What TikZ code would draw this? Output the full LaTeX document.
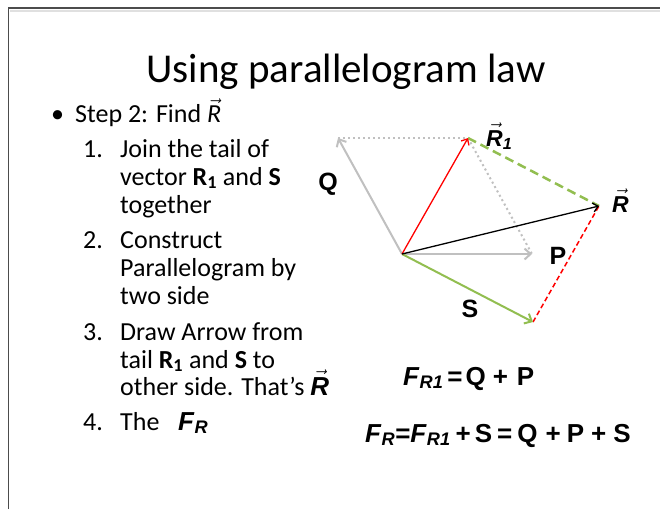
\documentclass[tikz,border=0pt]{standalone}
\usepackage{amsmath}
\usepackage{fontspec}
\setmainfont{Carlito}
\newfontfamily\arialfont{Liberation Sans}
\usetikzlibrary{arrows.meta}

\definecolor{vgray}{RGB}{192,192,192}
\definecolor{vgreen}{RGB}{146,190,80}
\newcommand{\Fsub}[1]{\textit{F}\textsubscript{\textit{#1}}}
\newcommand{\vecR}{$\vec{\text{\itshape R}}$}

\begin{document}
\begin{tikzpicture}[x=1pt,y=-1pt,
  vecarrow/.style={line width=2pt,-{Straight Barb[length=6pt,width=11pt]}},
  thinarrow/.style={line width=1.3pt,-{Straight Barb[length=5pt,width=9pt]}},
  dotline/.style={vgray,line width=2pt,dash pattern=on 2pt off 3pt},
  lbl/.style={font=\arialfont\bfseries\fontsize{25}{28}\selectfont,inner sep=0pt},
  rlbl/.style={anchor=base west,inner sep=0pt,font=\arialfont\bfseries\fontsize{23}{26}\selectfont},
  eqn/.style={anchor=base west,inner sep=0pt,font=\arialfont\bfseries\fontsize{26}{30}\selectfont},
  body/.style={anchor=base west,inner sep=0pt,font=\fontsize{26}{28}\selectfont}]
\useasboundingbox (0,0) rectangle (660,509);
\fill[white] (0,0) rectangle (660,509);
% slide frame
\draw[black!70,line width=1.5pt] (8.5,509) -- (8.5,8) -- (660,8);
\draw[black!12,line width=1.5pt] (10,11) -- (660,11);

\node[anchor=base,inner sep=0pt,font=\fontsize{41}{48}\selectfont] (title) at (346,82) {Using parallelogram law};

% left column
\node[body] (bullet) at (51,122) {\textbullet};
\node[body] (step) at (75,122) {Step 2: Find \vecR};
\foreach \y/\n in {157/1,248/2,340/3,430/4}
  \node[body] (num\n) at (83,\y) {\n.};
\foreach \y/\t [count=\i] in {157/Join the tail of,
    185/{vector \textbf{R\textsubscript{1}} and \textbf{S}},
    213/together,
    248/Construct,
    276/Parallelogram by,
    304/two side,
    340/Draw Arrow from,
    368/{tail \textbf{R\textsubscript{1}} and \textbf{S} to},
    395/{other side. That's {\arialfont\bfseries\vecR}},
    430/The}
  \node[body] (line\i) at (120,\y) {\t};
\node[eqn] (fr) at (178,430) {\Fsub{R}};

% parallelogram
\coordinate (O) at (402,254);
\coordinate (Qt) at (338,138);
\coordinate (Pt) at (532,254);
\coordinate (R1t) at (468,138);
\coordinate (St) at (533,322);
\coordinate (Rt) at (599,206);

\draw[dotline] (Qt) -- (R1t);
\draw[dotline] (R1t) -- (Pt);
\draw[vgreen,line width=2.5pt,dash pattern=on 9pt off 5pt] (R1t) -- (Rt);
\draw[red,line width=1.5pt,dash pattern=on 5pt off 3pt] (St) -- (Rt);
\draw[vecarrow,vgray] (O) -- (Qt);
\draw[vecarrow,vgray] (O) -- (Pt);
\draw[vecarrow,vgreen] (O) -- (St);
\draw[thinarrow,red] (O) -- (R1t);
\draw[thinarrow,black] (O) -- (Rt);

\node[lbl] (q) at (328,184) {Q};
\node[lbl] (p) at (558,256) {P};
\node[lbl] (s) at (470,309) {S};
\node[rlbl] (r1) at (486,146) {\vecR\textsubscript{\itshape 1}};
\node[rlbl] (r) at (612,212) {\vecR};

% equations
\node[eqn] (eq1) at (403,385) {\Fsub{R1}\hspace{4pt}=\hspace{3pt}Q\hspace{7pt}+\hspace{9pt}P};
\node[eqn] (eq2) at (365,442) {\Fsub{R}=\Fsub{R1}\hspace{5pt}+\hspace{4pt}S\hspace{5pt}=\hspace{5pt}Q\hspace{8pt}+\hspace{6pt}P\hspace{7pt}+\hspace{7pt}S};
\end{tikzpicture}
\end{document}
